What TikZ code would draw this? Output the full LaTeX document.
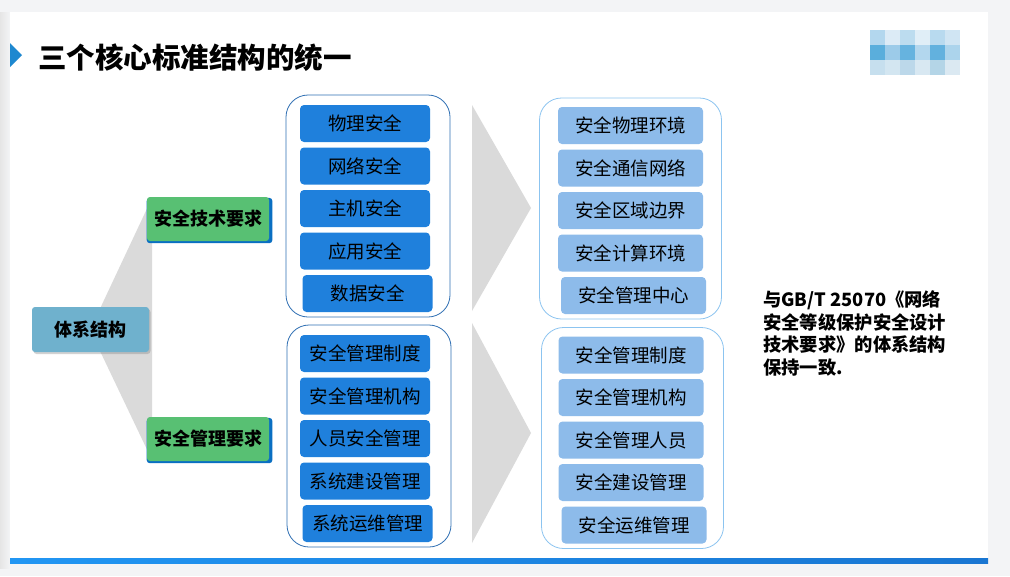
\documentclass[tikz,border=0pt]{standalone}
\usepackage{fontspec}
\setmainfont{Noto Sans CJK SC}
\usepackage{xcolor}
\usetikzlibrary{shapes.geometric, shadows, positioning}
\definecolor{pagegray}{HTML}{F3F4F6}
\definecolor{titleblue}{HTML}{1E88D0}
\definecolor{rootblue}{HTML}{6FB1CD}
\definecolor{reqgreen}{HTML}{58C073}
\definecolor{reqback}{HTML}{0A6FC2}
\definecolor{oldfill}{HTML}{1F80DC}
\definecolor{oldline}{HTML}{2F6FB3}
\definecolor{newfill}{HTML}{8DBBEA}
\definecolor{newline}{HTML}{8CC4F0}
\definecolor{arrowgray}{HTML}{DADADA}
\definecolor{barleft}{HTML}{2196F3}
\definecolor{barright}{HTML}{1976D2}
\tikzstyle{rootbox} = [rectangle, 
rounded corners=3pt, 
minimum width=117pt, 
minimum height=45pt, 
text centered, 
fill=rootblue, 
text=black, 
font=\bfseries\fontsize{18}{20}\selectfont, 
drop shadow={shadow xshift=1.5pt, shadow yshift=-2pt, opacity=0.35}]
\tikzstyle{reqbox} = [rectangle, 
rounded corners=3pt, 
minimum width=122pt, 
minimum height=44pt, 
text centered, 
fill=reqgreen, 
text=black, 
font=\bfseries\fontsize{18}{20}\selectfont, 
general shadow={fill=reqback, shadow xshift=1.5pt, shadow yshift=-1.5pt, shadow scale=1.03}]
\tikzstyle{oldbox} = [rectangle, 
rounded corners=4pt, 
minimum width=130pt, 
minimum height=37pt, 
text centered, 
fill=oldfill, 
text=black, 
font=\fontsize{18.5}{20}\selectfont]
\tikzstyle{newbox} = [rectangle, 
rounded corners=4pt, 
minimum width=145pt, 
minimum height=37pt, 
text centered, 
fill=newfill, 
text=black, 
font=\fontsize{18.5}{20}\selectfont]
\tikzstyle{oldgroup} = [rectangle, 
rounded corners=22pt, 
minimum width=164pt, 
minimum height=222pt, 
draw=oldline, 
line width=0.8pt]
\tikzstyle{newgroup} = [rectangle, 
rounded corners=22pt, 
minimum width=182pt, 
minimum height=221pt, 
draw=newline, 
line width=0.8pt]
\tikzstyle{chevron} = [fill=arrowgray]

\begin{document}
\begin{tikzpicture}[x=1pt, y=-1pt, node distance=42.5pt]
  \useasboundingbox (0,0) rectangle (1010,576);
  % slide
  \fill[pagegray] (0,0) rectangle (1010,576);
  \shade[left color=gray!20, right color=pagegray] (0,12) rectangle (10,568);
  \fill[white] (10,12) rectangle (988,563);
  \shade[left color=barleft, right color=barright] (10,558) rectangle (988,563);
  
  % title
  \fill[titleblue] (10,43) -- (22,55) -- (10,67) -- cycle;
  \node (title) [anchor=west, inner sep=0pt, font=\bfseries\fontsize{28.5}{30}\selectfont] at (38,58) {三个核心标准结构的统一};
  
  % blurred logo
  \foreach \c [count=\i from 0] in {B3D7EE, DCEBF6, BCDCEF, E0EEF7, B8DAEF, D0E5F3}{
    \definecolor{tile}{HTML}{\c}
    \fill[tile] (870+15*\i,30) rectangle ++(15,15);}
  \foreach \c [count=\i from 0] in {5AAEDC, 9CCBE9, 66B3DF, B3D7EE, 62B1DE, ACD4EC}{
    \definecolor{tile}{HTML}{\c}
    \fill[tile] (870+15*\i,45) rectangle ++(15,15);}
  \foreach \c [count=\i from 0] in {C6DFEE, D3E6F1, BCD8EA, D8E8F2, B4D5E7, DBE9F2}{
    \definecolor{tile}{HTML}{\c}
    \fill[tile] (870+15*\i,60) rectangle ++(15,15);}
  
  % gray chevrons
  \fill[chevron] (152,198) -- (90,330) -- (152,460) -- cycle;
  \fill[chevron] (472,105) -- (531,208) -- (472,311) -- cycle;
  \fill[chevron] (472,323) -- (531,433) -- (472,543) -- cycle;
  
  \node (root) [rootbox] at (90.5,329.5) {体系结构};
  \node (tech) [reqbox] at (208,219) {安全技术要求};
  \node (mgmt) [reqbox] at (208,439) {安全管理要求};
  
  % old standard
  \node (techgroup) [oldgroup] at (368,206) {};
  \node (phys) [oldbox] at (365,123.5) {物理安全};
  \node (net) [oldbox, below of=phys] {网络安全};
  \node (host) [oldbox, below of=net] {主机安全};
  \node (app) [oldbox, below of=host] {应用安全};
  \node (data) [oldbox, below of=app, xshift=2.5pt] {数据安全};
  
  \node (mgmtgroup) [oldgroup] at (369,436) {};
  \node (policy) [oldbox] at (365,353.5) {安全管理制度};
  \node (org) [oldbox, below of=policy] {安全管理机构};
  \node (staff) [oldbox, below of=org] {人员安全管理};
  \node (build) [oldbox, below of=staff] {系统建设管理};
  \node (ops) [oldbox, below of=build, xshift=2.5pt] {系统运维管理};
  
  % new standard
  \node (envgroup) [newgroup] at (630.5,208.5) {};
  \node (env) [newbox] at (630.5,125.5) {安全物理环境};
  \node (comm) [newbox, below of=env] {安全通信网络};
  \node (border) [newbox, below of=comm] {安全区域边界};
  \node (comp) [newbox, below of=border] {安全计算环境};
  \node (center) [newbox, below of=comp, xshift=3pt] {安全管理中心};
  
  \node (rulegroup) [newgroup] at (632.5,438) {};
  \node (npolicy) [newbox] at (631,355) {安全管理制度};
  \node (norg) [newbox, below of=npolicy] {安全管理机构};
  \node (nstaff) [newbox, below of=norg] {安全管理人员};
  \node (nbuild) [newbox, below of=nstaff] {安全建设管理};
  \node (nops) [newbox, below of=nbuild, xshift=3pt] {安全运维管理};
  
  \node (note) [anchor=west, align=left, inner sep=0pt, font=\bfseries\fontsize{18.3}{22.5}\selectfont] at (763,333.5) {与GB/T 25070《网络\\安全等级保护安全设计\\技术要求》的体系结构\\保持一致.};
  
\end{tikzpicture}
\end{document}
